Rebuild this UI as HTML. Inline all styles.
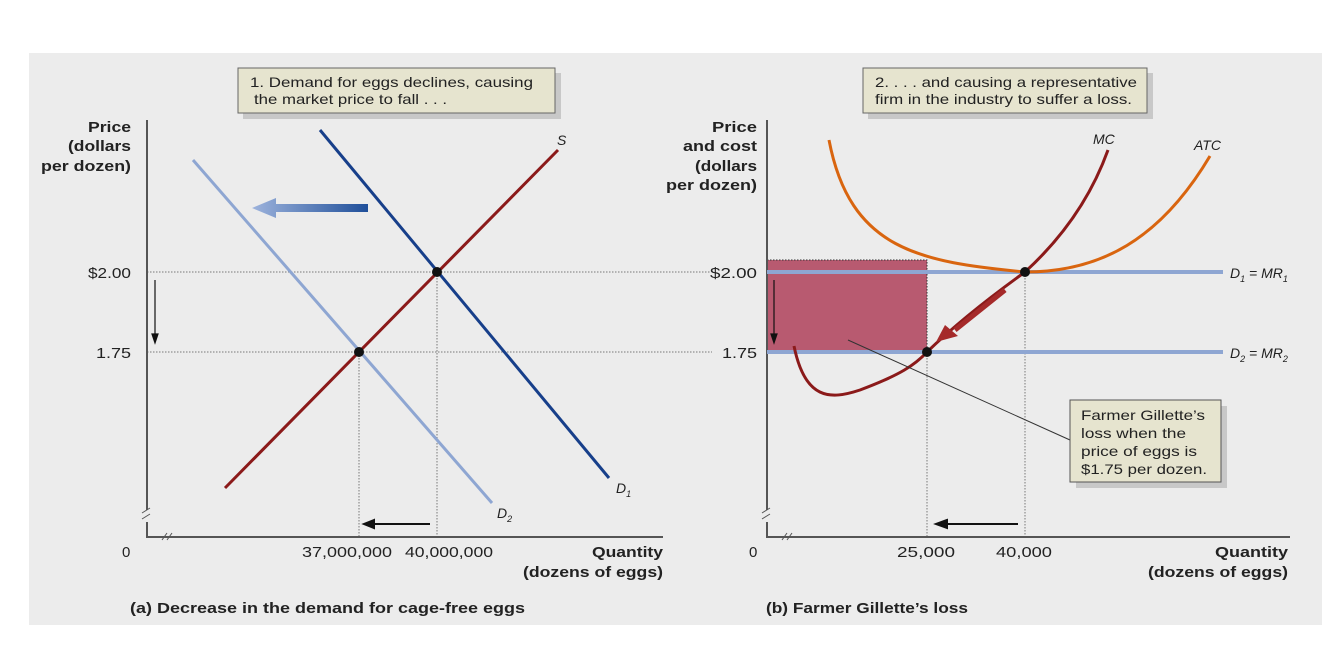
<!DOCTYPE html>
<html><head><style>
body{margin:0;background:#fff;}
svg{display:block;font-family:"Liberation Sans",sans-serif;}
</style></head><body>
<svg width="1335" height="668" viewBox="0 0 1335 668">
<defs>
<linearGradient id="ga" x1="0" x2="1"><stop offset="0" stop-color="#9db3dc"/><stop offset="1" stop-color="#1f4f9a"/></linearGradient>
</defs>
<rect x="29" y="53" width="1293" height="572" fill="#ececec"/>
<rect x="243" y="73" width="318" height="46" fill="#c8c8c8"/>
<rect x="238" y="68" width="317" height="45" fill="#e6e4cf" stroke="#666" stroke-width="1"/>
<g font-size="14" fill="#222" lengthAdjust="spacingAndGlyphs">
<text x="250" y="87" textLength="283" lengthAdjust="spacingAndGlyphs">1. Demand for eggs declines, causing</text>
<text x="254" y="104" textLength="193" lengthAdjust="spacingAndGlyphs">the market price to fall . . .</text>
</g>
<rect x="868" y="73" width="285" height="46" fill="#c8c8c8"/>
<rect x="863" y="68" width="284" height="45" fill="#e6e4cf" stroke="#666"/>
<g font-size="14" fill="#222">
<text x="875" y="87" textLength="262" lengthAdjust="spacingAndGlyphs">2. . . . and causing a representative</text>
<text x="875" y="104" textLength="257" lengthAdjust="spacingAndGlyphs">firm in the industry to suffer a loss.</text>
</g>
<g font-size="15" font-weight="bold" fill="#222">
<text x="88" y="132" textLength="43" lengthAdjust="spacingAndGlyphs">Price</text>
<text x="68" y="151" textLength="63" lengthAdjust="spacingAndGlyphs">(dollars</text>
<text x="41" y="171" textLength="90" lengthAdjust="spacingAndGlyphs">per dozen)</text>
<text x="712" y="132" textLength="45" lengthAdjust="spacingAndGlyphs">Price</text>
<text x="683" y="151" textLength="74" lengthAdjust="spacingAndGlyphs">and cost</text>
<text x="695" y="171" textLength="62" lengthAdjust="spacingAndGlyphs">(dollars</text>
<text x="666" y="190" textLength="91" lengthAdjust="spacingAndGlyphs">per dozen)</text>
<text x="592" y="557" textLength="71" lengthAdjust="spacingAndGlyphs">Quantity</text>
<text x="523" y="577" textLength="140" lengthAdjust="spacingAndGlyphs">(dozens of eggs)</text>
<text x="1215" y="557" textLength="73" lengthAdjust="spacingAndGlyphs">Quantity</text>
<text x="1148" y="577" textLength="140" lengthAdjust="spacingAndGlyphs">(dozens of eggs)</text>
<text x="130" y="613" textLength="395" lengthAdjust="spacingAndGlyphs">(a) Decrease in the demand for cage-free eggs</text>
<text x="766" y="613" textLength="202" lengthAdjust="spacingAndGlyphs">(b) Farmer Gillette’s loss</text>
</g>
<g font-size="15" fill="#222">
<text x="88" y="278" textLength="43" lengthAdjust="spacingAndGlyphs">$2.00</text>
<text x="96" y="358" textLength="35" lengthAdjust="spacingAndGlyphs">1.75</text>
<text x="710" y="278" textLength="47" lengthAdjust="spacingAndGlyphs">$2.00</text>
<text x="722" y="358" textLength="35" lengthAdjust="spacingAndGlyphs">1.75</text>
<text x="122" y="557">0</text>
<text x="302" y="557" textLength="90" lengthAdjust="spacingAndGlyphs">37,000,000</text>
<text x="405" y="557" textLength="88" lengthAdjust="spacingAndGlyphs">40,000,000</text>
<text x="749" y="557">0</text>
<text x="897" y="557" textLength="58" lengthAdjust="spacingAndGlyphs">25,000</text>
<text x="996" y="557" textLength="56" lengthAdjust="spacingAndGlyphs">40,000</text>
</g>
<rect x="767" y="260" width="160" height="92" fill="#b85a70"/>
<path d="M767 260H927V352" fill="none" stroke="#333" stroke-dasharray="1.5 1.5" stroke-width="1"/>
<g stroke="#777" stroke-dasharray="1.5 1.5" stroke-width="1">
<line x1="147" y1="272" x2="710" y2="272"/><line x1="147" y1="352" x2="712" y2="352"/>
<line x1="437" y1="272" x2="437" y2="537"/><line x1="359" y1="352" x2="359" y2="537"/>
<line x1="927" y1="352" x2="927" y2="537"/><line x1="1025" y1="272" x2="1025" y2="537"/>
</g>
<g stroke="#555" stroke-width="2" fill="none">
<path d="M147 120V510M147 522V537H663"/>
<path d="M767 120V510M767 522V537H1290"/>
</g>
<g stroke="#555" stroke-width="1" fill="none">
<path d="M142 513l8 -5M142 519l8 -5M162 540l5 -7M167 540l5 -7"/>
<path d="M762 513l8 -5M762 519l8 -5M782 540l5 -7M787 540l5 -7"/>
</g>
<line x1="193" y1="160" x2="492" y2="503" stroke="#8ea6d2" stroke-width="3"/>
<line x1="320" y1="130" x2="609" y2="478" stroke="#173f8a" stroke-width="3"/>
<line x1="225" y1="488" x2="558" y2="150" stroke="#8b1a1a" stroke-width="3"/>
<path d="M368 204H276V198L252 208L276 218V212H368Z" fill="url(#ga)"/>
<circle cx="437" cy="272" r="5" fill="#111"/><circle cx="359" cy="352" r="5" fill="#111"/>
<g stroke="#111" stroke-width="1.2" fill="#111">
<line x1="155" y1="280" x2="155" y2="336"/><path d="M152 334L155 343L158 334Z"/>
<line x1="774" y1="280" x2="774" y2="336"/><path d="M771 334L774 343L777 334Z"/>
</g>
<g stroke="#111" stroke-width="2" fill="#111">
<line x1="430" y1="524" x2="372" y2="524"/><path d="M374 520L364 524L374 528Z"/>
<line x1="1018" y1="524" x2="945" y2="524"/><path d="M947 520L936 524L947 528Z"/>
</g>
<g font-size="14" font-style="italic" fill="#222">
<text x="557" y="145">S</text>
<text x="616" y="493">D<tspan font-size="9" dy="4">1</tspan></text>
<text x="497" y="518">D<tspan font-size="9" dy="4">2</tspan></text>
<text x="1093" y="144">MC</text><text x="1194" y="150">ATC</text>
<text x="1230" y="278">D<tspan font-size="9" dy="4">1</tspan><tspan dy="-4"> = MR</tspan><tspan font-size="9" dy="4">1</tspan></text>
<text x="1230" y="358">D<tspan font-size="9" dy="4">2</tspan><tspan dy="-4"> = MR</tspan><tspan font-size="9" dy="4">2</tspan></text>
</g>
<line x1="767" y1="272" x2="1223" y2="272" stroke="#8ea6d2" stroke-width="4"/>
<line x1="767" y1="352" x2="1223" y2="352" stroke="#8ea6d2" stroke-width="4"/>
<path d="M829 140C850 250 920 262 1025 272C1100 272 1160 240 1210 156" fill="none" stroke="#d9650f" stroke-width="3"/>
<path d="M794 346C805 400 830 400 860 390C900 375 915 365 927 352C960 320 1000 290 1025 272C1060 240 1090 200 1108 150" fill="none" stroke="#8b1a1a" stroke-width="3"/>
<line x1="1005" y1="290" x2="955" y2="330" stroke="#a52a2a" stroke-width="5"/>
<path d="M945 325L936 342L958 336Z" fill="#a52a2a"/>
<circle cx="1025" cy="272" r="5" fill="#111"/><circle cx="927" cy="352" r="5" fill="#111"/>
<line x1="848" y1="340" x2="1070" y2="440" stroke="#333" stroke-width="1"/>
<rect x="1076" y="406" width="151" height="82" fill="#c8c8c8"/>
<rect x="1070" y="400" width="151" height="82" fill="#e6e4cf" stroke="#555"/>
<g font-size="14" fill="#222">
<text x="1081" y="420" textLength="124" lengthAdjust="spacingAndGlyphs">Farmer Gillette’s</text>
<text x="1081" y="438" textLength="105" lengthAdjust="spacingAndGlyphs">loss when the</text>
<text x="1081" y="456" textLength="116" lengthAdjust="spacingAndGlyphs">price of eggs is</text>
<text x="1081" y="474" textLength="126" lengthAdjust="spacingAndGlyphs">$1.75 per dozen.</text>
</g>
</svg>
</body></html>
